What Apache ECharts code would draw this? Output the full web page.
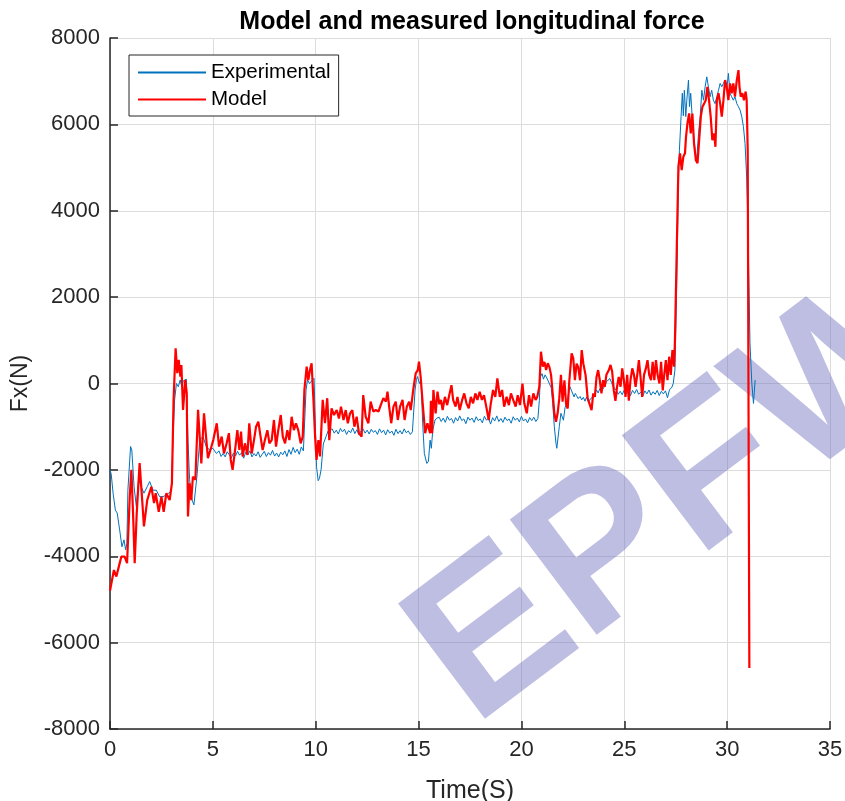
<!DOCTYPE html>
<html>
<head>
<meta charset="utf-8">
<script src="https://cdn.jsdelivr.net/npm/echarts@6/dist/echarts.min.js"></script>
<style>
  html, body { margin: 0; padding: 0; background: #fff; }
  #chart { width: 845px; height: 801px; }
</style>
</head>
<body>
<div id="chart"></div>
<script>
// Measured longitudinal force (time in s, force in N)
const expT = [
  0.0, 0.06, 0.15, 0.26, 0.35, 0.47, 0.58, 0.68, 0.76, 0.82, 0.87, 1.0, 1.06, 1.17, 1.28, 1.39, 1.52, 1.65, 1.81, 1.93,
  2.09, 2.25, 2.41, 2.58, 2.74, 2.85, 2.98, 3.06, 3.14, 3.23, 3.32, 3.41, 3.49, 3.56, 3.63, 3.71, 3.79, 3.87, 3.99, 4.08,
  4.16, 4.24, 4.36, 4.52, 4.68, 4.84, 5.0, 5.17,
  5.3, 5.4, 5.5, 5.6, 5.7, 5.8, 5.9, 6.0, 6.1, 6.2, 6.3, 6.4, 6.5, 6.6, 6.7, 6.8, 6.9, 7.0, 7.1, 7.2,
  7.3, 7.4, 7.5, 7.6, 7.7, 7.8, 7.9, 8.0, 8.1, 8.2, 8.3, 8.4, 8.5, 8.6, 8.7, 8.8, 8.9, 9.0, 9.1, 9.2, 9.3, 9.4,
  9.43, 9.53, 9.6, 9.7, 9.8, 9.92, 10.0, 10.04, 10.12, 10.18, 10.26, 10.37, 10.5, 10.6, 10.69,
  10.8, 10.9, 11.0, 11.1, 11.2, 11.3, 11.4, 11.5, 11.6, 11.7, 11.8, 11.9, 12.0, 12.1, 12.2, 12.3, 12.4, 12.5, 12.6, 12.7,
  12.8, 12.9, 13.0, 13.1, 13.2, 13.3, 13.4, 13.5, 13.6, 13.7, 13.8, 13.9, 14.0, 14.1, 14.2, 14.3, 14.4, 14.5, 14.6, 14.7,
  14.75, 14.83, 14.9, 14.95, 15.04, 15.12, 15.2, 15.28, 15.4, 15.48, 15.56, 15.62, 15.69, 15.8, 15.9,
  16.0, 16.1, 16.2, 16.3, 16.4, 16.5, 16.6, 16.7, 16.8, 16.9, 17.0, 17.1, 17.2, 17.3, 17.4, 17.5, 17.6, 17.7, 17.8, 17.9,
  18.0, 18.1, 18.2, 18.3, 18.4, 18.5, 18.6, 18.7, 18.8, 18.9, 19.0, 19.1, 19.2, 19.3, 19.4, 19.5, 19.6, 19.7, 19.8, 19.9,
  20.0, 20.1, 20.2, 20.3, 20.4, 20.5, 20.6, 20.7, 20.8,
  20.87, 20.92, 21.0, 21.07, 21.15, 21.23, 21.3, 21.39, 21.45, 21.52, 21.6, 21.68, 21.72, 21.76, 21.84, 21.92, 22.04, 22.12, 22.23, 22.3,
  22.36, 22.42, 22.48, 22.56, 22.62, 22.68, 22.76, 22.85, 22.93, 23.01, 23.09, 23.17, 23.25, 23.33, 23.41, 23.49, 23.57, 23.65, 23.73, 23.81,
  23.89, 23.97, 24.05, 24.13, 24.22, 24.3, 24.38, 24.46, 24.54, 24.62, 24.7,
  24.8, 24.9, 25.0, 25.1, 25.2, 25.3, 25.4, 25.5, 25.6, 25.7, 25.8, 25.9, 26.0, 26.1, 26.2, 26.3, 26.4, 26.5, 26.6, 26.7,
  26.8, 26.9, 27.0, 27.1, 27.2, 27.3,
  27.38, 27.46, 27.55, 27.63, 27.68, 27.76, 27.82, 27.87, 27.92, 27.99, 28.04, 28.12, 28.17, 28.23, 28.3, 28.36, 28.44, 28.52, 28.61, 28.69,
  28.77, 28.85, 28.93, 29.01, 29.09, 29.17, 29.25, 29.33, 29.41, 29.5, 29.58, 29.66, 29.74, 29.82, 29.9, 29.98, 30.06, 30.14, 30.22, 30.3,
  30.38, 30.47, 30.55, 30.63, 30.71, 30.79, 30.87, 30.95, 31.0, 31.06, 31.11, 31.2, 31.28, 31.32, 31.36
];
const expF = [
  -2000, -2100, -2540, -2930, -3000, -3390, -3780, -3620, -3850, -3700, -2470, -1460, -1540, -2390, -2850, -2230, -2390, -2540, -2390, -2270,
  -2470, -2470, -2620, -2620, -2580, -2540, -2500, -1310, -380, 0, -75, 80, -75, 60, 80, 100, -1310, -2230, -2700, -2810,
  -2770, -2080, -1310, -1230, -1460, -1540, -1500, -1620,
  -1560, -1690, -1620, -1700, -1580, -1650, -1720, -1610, -1680, -1570, -1660, -1600, -1730, -1590, -1650, -1560, -1700, -1620, -1680, -1580,
  -1710, -1640, -1570, -1690, -1600, -1660, -1550, -1680, -1610, -1700, -1590, -1650, -1560, -1690, -1530, -1640, -1480, -1600, -1520, -1640, -1470, -1560,
  -1540, -150, 80, 0, 60, 120, -1310, -1930, -2250, -2200, -2000, -1400, -1230, -1100, -1080,
  -1050, -1150, -1080, -1170, -1040, -1120, -1060, -1180, -1090, -1140, -1030, -1160, -1070, -1190, -1100, -1050, -1150, -1080, -1170, -1060,
  -1130, -1090, -1180, -1050, -1140, -1080, -1190, -1070, -1150, -1100, -1200, -1060, -1160, -1090, -1170, -1050, -1140, -1100, -1180, -1120,
  -1150, -150, 100, 160, 0, 80, -920, -1620, -1850, -1800, -1310, -1500, -1080, -845, -800,
  -780, -880, -800, -900, -760, -850, -810, -920, -790, -870, -750, -860, -820, -930, -780, -850, -800, -900, -770, -860,
  -820, -910, -760, -850, -800, -940, -790, -870, -750, -880, -810, -900, -780, -860, -820, -920, -770, -850, -800, -890,
  -760, -870, -820, -910, -790, -860, -780, -880, -810,
  -400, 150, 230, 100, 200, 130, 60, 60, -100, -460, -1000, -1385, -1500, -1460, -1000, -690, -850, -560, -420, -200,
  -75, -150, -150, -310, -230, -280, -350, -300, -380, -320, -410, -310, -420, -385, -330, -310, -240, -150, -220, -120,
  -180, -160, -60, 40, 80, 115, 20, -75, -120, -160, -250,
  -180, -260, -150, -240, -190, -280, -160, -230, -140, -250, -200, -290, -170, -240, -150, -270, -190, -250, -160, -280,
  -180, -240, -170, -330, -140, -100,
  0, 310, 2320, 4630, 5400, 6180, 6720, 6200, 6790, 6180, 6560, 7025, 6410, 6720, 6180, 5790, 5400, 5170, 5790, 6180,
  6790, 6560, 6870, 7100, 6870, 6640, 6790, 6560, 6480, 6640, 6790, 6950, 6870, 6950, 7025, 6790, 7180, 6720, 6640, 6560,
  6640, 6480, 6410, 6330, 6180, 5950, 5560, 4780, 3860, 2320, 935, 0, -460, -200, 80
];

// Model longitudinal force (time in s, force in N)
const modT = [
  0.0, 0.06, 0.19, 0.31, 0.45, 0.55, 0.71, 0.83, 0.96, 1.04, 1.12, 1.2, 1.3, 1.44, 1.55, 1.65, 1.81, 2.01, 2.14, 2.22,
  2.37, 2.5, 2.61, 2.74, 2.9, 3.01, 3.09, 3.19, 3.27, 3.34, 3.42, 3.47, 3.55, 3.66, 3.73, 3.79, 3.87, 3.95, 4.03, 4.15,
  4.28, 4.44, 4.57, 4.76, 4.93, 5.02, 5.19, 5.3, 5.43, 5.54, 5.67, 5.78, 5.87, 5.96, 6.08, 6.19, 6.29, 6.37, 6.45, 6.56,
  6.68, 6.77, 6.89, 7.0, 7.1, 7.21, 7.32, 7.42, 7.53, 7.65, 7.75, 7.86, 7.97, 8.07, 8.18, 8.3, 8.4, 8.51, 8.62, 8.72,
  8.83, 8.94, 9.04, 9.15, 9.27, 9.37, 9.45, 9.56, 9.64, 9.72, 9.8, 9.89, 9.97, 10.04, 10.13, 10.21, 10.34, 10.45, 10.56, 10.66,
  10.77, 10.89, 11.02, 11.13, 11.23, 11.35, 11.46, 11.56, 11.67, 11.78, 11.88, 11.99, 12.1, 12.23, 12.31, 12.43, 12.56, 12.67, 12.8, 12.92,
  13.05, 13.16, 13.29, 13.41, 13.49, 13.57, 13.67, 13.78, 13.89, 13.99, 14.1, 14.22, 14.32, 14.43, 14.54, 14.62, 14.75, 14.86, 14.96, 15.02,
  15.1, 15.2, 15.32, 15.43, 15.56, 15.6, 15.66, 15.72, 15.83, 15.92, 16.01, 16.09, 16.17, 16.28, 16.39, 16.49, 16.6, 16.68, 16.8, 16.89,
  17.0, 17.12, 17.22, 17.33, 17.44, 17.54, 17.65, 17.76, 17.86, 17.97, 18.08, 18.18, 18.29, 18.41, 18.5, 18.62, 18.73, 18.83, 18.95, 19.06,
  19.16, 19.28, 19.39, 19.49, 19.6, 19.72, 19.82, 19.93, 20.05, 20.14, 20.26, 20.37, 20.47, 20.58, 20.69, 20.77, 20.87, 20.95, 21.04, 21.12,
  21.2, 21.28, 21.36, 21.44, 21.52, 21.6, 21.68, 21.76, 21.84, 21.92, 22.0, 22.09, 22.17, 22.25, 22.33, 22.44, 22.52, 22.6, 22.68, 22.76,
  22.85, 22.93, 23.01, 23.12, 23.22, 23.33, 23.41, 23.49, 23.57, 23.65, 23.73, 23.81, 23.89, 23.97, 24.05, 24.13, 24.25, 24.33, 24.41, 24.49,
  24.57, 24.65, 24.73, 24.82, 24.9, 24.98, 25.06, 25.14, 25.22, 25.3, 25.39, 25.47, 25.55, 25.63, 25.71, 25.79, 25.87, 25.96, 26.05, 26.13,
  26.21, 26.3, 26.38, 26.46, 26.54, 26.62, 26.71, 26.79, 26.87, 26.93, 27.02, 27.1, 27.18, 27.26, 27.34, 27.42, 27.46, 27.55, 27.63, 27.71,
  27.79, 27.87, 27.95, 28.0, 28.07, 28.15, 28.23, 28.31, 28.39, 28.48, 28.56, 28.64, 28.72, 28.8, 28.88, 28.96, 29.04, 29.12, 29.2, 29.28,
  29.37, 29.43, 29.5, 29.58, 29.66, 29.74, 29.82, 29.9, 29.98, 30.06, 30.14, 30.22, 30.3, 30.38, 30.47, 30.55, 30.6, 30.66, 30.74, 30.82,
  30.9, 30.95, 31.0, 31.08
];
const modF = [
  -4800, -4780, -4320, -4470, -4200, -4010, -4010, -4160, -2620, -2000, -3000, -4160, -3000, -1840, -2600, -3310, -2700, -2390, -2770, -2540,
  -2970, -2620, -2970, -2540, -2700, -2310, -380, 815, 240, 545, 160, 430, -610, 80, -230, -3080, -2310, -2700, -2160, -2230,
  -610, -1850, -690, -1730, -1460, -1310, -920, -1460, -1230, -1620, -1385, -1150, -1770, -2000, -1540, -1080, -1540, -1115, -1690, -1385,
  -1655, -920, -1620, -1310, -1000, -885, -1230, -1540, -1310, -1080, -1385, -1310, -845, -1460, -1080, -730, -1230, -1385, -1080, -1310,
  -770, -1080, -920, -1080, -1385, -1230, -150, 390, 80, 310, 470, -380, -1230, -1770, -1310, -1690, -380, -920, -340, -1310,
  -575, -730, -615, -810, -535, -845, -615, -920, -690, -615, -1000, -770, -1150, -1230, -270, -770, -920, -420, -650, -615,
  -650, -500, -340, -420, -190, -535, -920, -535, -420, -845, -535, -380, -845, -535, -420, -615, -115, 235, 310, 505,
  160, -460, -1150, -920, -1150, -400, -1150, -150, -690, -190, -480, -380, -615, -310, -500, -270, -40, -380, -535, -310,
  -615, -380, -230, -460, -575, -310, -460, -230, -380, -190, -380, -270, -535, -845, -500, -150, -310, 120, -310, -150,
  -535, -310, -500, -230, -380, -535, -270, -500, 0, -460, -690, -270, -535, -230, -380, -310, -75, 735, 390, 500,
  310, 470, 380, 200, -230, -690, -885, -690, -345, 200, -420, 75, -470, -580, 75, 700, 580, 75, 460, 380,
  75, 775, 460, 190, -345, -500, -615, -230, -310, 150, 310, 75, -230, 75, -75, 200, 310, 430, 280, -160,
  -400, -75, 150, -75, 350, 75, -310, 200, -400, 75, 350, 200, -75, 200, 540, 150, -310, 200, 350, 540,
  200, 75, 500, 75, 540, 200, 0, 500, -160, 150, 540, 75, 620, 200, 775, 390, 935, 3090, 5020, 5330,
  4940, 5250, 5330, 5710, 6020, 6255, 5790, 6250, 5560, 5170, 5100, 5635, 6180, 6410, 6480, 6560, 6870, 6560, 6180, 5635,
  5790, 5480, 6560, 6720, 6480, 6180, 6560, 7025, 6870, 6560, 6950, 6720, 6950, 6640, 7025, 7255, 6870, 6640, 6720, 6560,
  6760, 6560, 5400, -6590
];

// Axis ticks
const xTicks = [0, 5, 10, 15, 20, 25, 30, 35];
const yTicks = [-8000, -6000, -4000, -2000, 0, 2000, 4000, 6000, 8000];

const FONT = '"Liberation Sans", Arial, sans-serif';
const AXIS_COLOR = '#262626';

const pairs = (ts, fs) => ts.map((t, i) => [t, fs[i]]);

const chart = echarts.init(document.getElementById('chart'), null, { renderer: 'canvas' });

chart.setOption({
  animation: false,
  backgroundColor: '#ffffff',
  title: {
    text: 'Model and measured longitudinal force',
    left: 467,
    top: 5,
    textAlign: 'center',
    textStyle: { fontFamily: FONT, fontSize: 25, fontWeight: 'bold', color: '#000' }
  },
  grid: { left: 110, right: 15, top: 38, bottom: 72, containLabel: false, outerBoundsMode: 'none' },
  legend: {
    orient: 'vertical',
    left: 129,
    top: 55,
    padding: [7, 8, 6, 8],
    itemGap: 6,
    itemWidth: 68,
    itemHeight: 20,
    // line-only keys: the marker symbol is hidden, the series line stays
    itemStyle: { opacity: 0 },
    borderColor: AXIS_COLOR,
    borderWidth: 1,
    borderRadius: 0,
    backgroundColor: '#fff',
    textStyle: { fontFamily: FONT, fontSize: 20.5, color: '#000' },
    data: ['Experimental', 'Model']
  },
  graphic: [{
    type: 'text',
    z: 1,
    x: 502,
    y: 765,
    rotation: 0.645,
    style: {
      text: 'EPFW',
      font: 'bold 210px "Liberation Sans", Arial, sans-serif',
      fill: 'rgba(110,110,190,0.45)',
      textAlign: 'left',
      textVerticalAlign: 'bottom'
    },
    silent: true
  }],
  xAxis: {
    type: 'value',
    min: xTicks[0],
    max: xTicks[xTicks.length - 1],
    interval: 5,
    name: 'Time(S)',
    nameLocation: 'middle',
    nameGap: 50,
    nameTextStyle: { fontFamily: FONT, fontSize: 25, color: AXIS_COLOR },
    axisLine: { show: true, onZero: false, lineStyle: { color: AXIS_COLOR, width: 1.5 } },
    axisTick: { show: true, inside: true, length: 8, lineStyle: { color: AXIS_COLOR, width: 1.5 } },
    axisLabel: { fontFamily: FONT, fontSize: 22, color: AXIS_COLOR, margin: 10 },
    splitLine: { show: true, lineStyle: { color: '#dcdcdc', width: 1 } }
  },
  yAxis: {
    type: 'value',
    min: yTicks[0],
    max: yTicks[yTicks.length - 1],
    interval: 2000,
    name: 'Fx(N)',
    nameLocation: 'middle',
    nameGap: 78,
    nameTextStyle: { fontFamily: FONT, fontSize: 23, color: AXIS_COLOR },
    axisLine: { show: true, onZero: false, lineStyle: { color: AXIS_COLOR, width: 1.5 } },
    axisTick: { show: true, inside: true, length: 8, lineStyle: { color: AXIS_COLOR, width: 1.5 } },
    axisLabel: { fontFamily: FONT, fontSize: 22, color: AXIS_COLOR, margin: 10, formatter: v => String(v) },
    splitLine: { show: true, lineStyle: { color: '#dcdcdc', width: 1 } }
  },
  series: [
    {
      name: 'Experimental',
      type: 'line',
      data: pairs(expT, expF),
      showSymbol: false,
      symbol: 'none',
      lineStyle: { color: '#0072BD', width: 1 },
      itemStyle: { color: '#0072BD' },
      z: 3
    },
    {
      name: 'Model',
      type: 'line',
      data: pairs(modT, modF),
      showSymbol: false,
      symbol: 'none',
      lineStyle: { color: '#FF0000', width: 2.2 },
      itemStyle: { color: '#FF0000' },
      z: 4
    }
  ]
});
</script>
</body>
</html>
